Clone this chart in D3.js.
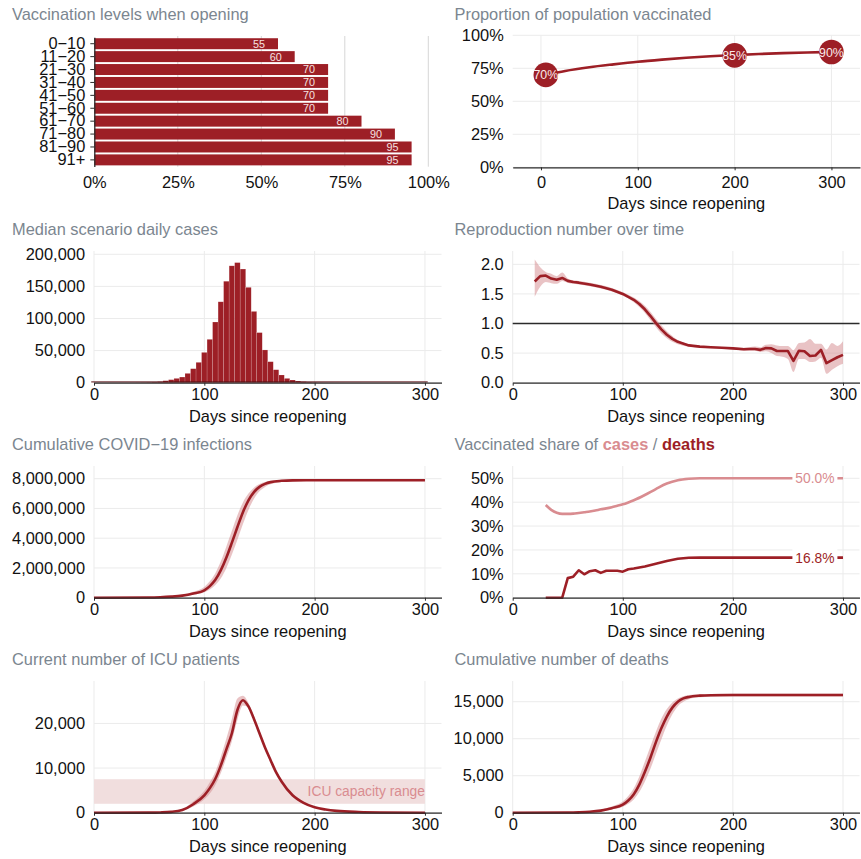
<!DOCTYPE html>
<html>
<head>
<meta charset="utf-8">
<script src="https://d3js.org/d3.v7.min.js"></script>
<style>
body { margin: 0; background: #fff; }
svg text { font-family: "Liberation Sans", Arial, sans-serif; }
</style>
</head>
<body>
<svg id="main"></svg>
<script>
// vaccination levels by age group
var ageGroups = ["0\u221210", "11\u221220", "21\u221230", "31\u221240", "41\u221250", "51\u221260", "61\u221270", "71\u221280", "81\u221290", "91+"];
var vaxLevels = [55, 60, 70, 70, 70, 70, 80, 90, 95, 95];

// proportion of population vaccinated (%)
var propDays = [5, 25, 50, 75, 100, 125, 150, 175, 200, 225, 250, 275, 300];
var propVals = [70, 73, 75.8, 78, 80, 81.6, 83, 84.1, 85, 85.8, 86.5, 87, 87.4];
var milestoneDays = [5, 200, 300];
var milestoneVals = [70, 84.8, 87.3];
var milestoneLabels = ["70%", "85%", "90%"];

// median scenario daily cases, thousands, 5-day bins
var caseDays = [0, 5, 10, 15, 20, 25, 30, 35, 40, 45, 50, 55, 60, 65, 70, 75, 80, 85, 90, 95,
  100, 105, 110, 115, 120, 125, 130, 135, 140, 145, 150, 155, 160, 165, 170, 175, 180, 185, 190, 195,
  200, 205, 210, 215, 220, 225, 230, 235, 240, 245, 250, 255, 260, 265, 270, 275, 280, 285, 290, 295, 300];
var dailyCases = [0.1, 0.1, 0.1, 0.15, 0.15, 0.2, 0.2, 0.3, 0.4, 0.5, 0.7, 1.0, 1.6, 3.1, 4.7, 6.7, 8.8, 14.5, 21.8, 31.7,
  47.2, 67.5, 94.5, 126, 158, 182, 187, 177, 148.5, 111, 78, 51, 32.7, 20.2, 12, 6.7, 4.2, 2.6, 1.6, 0.9,
  0.6, 0.4, 0.3, 0.25, 0.2, 0.2, 0.15, 0.15, 0.15, 0.1, 0.1, 0.1, 0.1, 0.1, 0.1, 0.1, 0.1, 0.1, 0.1, 0.1, 0.1];

// reproduction number
var rDays = [20, 25, 30, 35, 40, 45, 50, 55, 60, 70, 80, 90, 100, 110, 115, 120, 125, 130, 135, 140, 145, 150,
  160, 170, 180, 190, 200, 210, 215, 220, 225, 230, 235, 240, 245, 250, 255, 260, 265, 270, 275, 280, 285, 290, 295, 300];
var rMid = [1.71, 1.80, 1.81, 1.76, 1.74, 1.77, 1.72, 1.70, 1.69, 1.66, 1.62, 1.57, 1.50, 1.40, 1.33, 1.24, 1.13, 1.01, 0.90, 0.81, 0.74, 0.69,
  0.63, 0.61, 0.60, 0.59, 0.58, 0.565, 0.57, 0.57, 0.555, 0.585, 0.58, 0.535, 0.535, 0.535, 0.37, 0.54, 0.53, 0.45, 0.46, 0.555, 0.33, 0.38, 0.43, 0.47];
var rLo = [1.45, 1.62, 1.70, 1.68, 1.67, 1.72, 1.69, 1.67, 1.66, 1.63, 1.59, 1.54, 1.47, 1.36, 1.28, 1.18, 1.06, 0.94, 0.83, 0.75, 0.69, 0.65,
  0.61, 0.59, 0.58, 0.575, 0.565, 0.54, 0.54, 0.54, 0.52, 0.53, 0.50, 0.45, 0.44, 0.40, 0.18, 0.40, 0.40, 0.35, 0.36, 0.42, 0.15, 0.22, 0.28, 0.32];
var rHi = [2.08, 1.95, 1.87, 1.84, 1.80, 1.86, 1.76, 1.73, 1.72, 1.69, 1.65, 1.60, 1.53, 1.44, 1.38, 1.30, 1.20, 1.08, 0.97, 0.87, 0.79, 0.72,
  0.65, 0.62, 0.61, 0.605, 0.60, 0.59, 0.60, 0.61, 0.60, 0.64, 0.65, 0.63, 0.62, 0.62, 0.55, 0.67, 0.68, 0.74, 0.66, 0.66, 0.56, 0.67, 0.62, 0.70];

// cumulative infections, millions
var cumDays = [0, 50, 60, 70, 80, 90, 100, 105, 110, 115, 120, 125, 130, 135, 140, 145, 150, 155, 160, 170, 180, 200, 250, 300];
var infMid = [0, 0.01, 0.03, 0.07, 0.14, 0.28, 0.5, 0.78, 1.2, 1.85, 2.7, 3.7, 4.75, 5.75, 6.55, 7.1, 7.45, 7.65, 7.77, 7.86, 7.89, 7.9, 7.9, 7.9];
var infLo = [0, 0.005, 0.02, 0.05, 0.1, 0.2, 0.36, 0.55, 0.85, 1.3, 2.0, 2.9, 3.9, 4.95, 5.9, 6.65, 7.15, 7.45, 7.62, 7.78, 7.83, 7.85, 7.85, 7.85];
var infHi = [0, 0.015, 0.04, 0.1, 0.2, 0.4, 0.72, 1.1, 1.65, 2.45, 3.45, 4.5, 5.55, 6.4, 7.0, 7.4, 7.65, 7.78, 7.85, 7.9, 7.93, 7.95, 7.95, 7.95];

// vaccinated share of cases / deaths (%)
var shareDays = [30, 35, 40, 45, 50, 55, 60, 65, 70, 75, 80, 85, 90, 95, 100, 105, 110, 120, 130, 140, 150, 160, 170, 180, 200, 250, 300];
var casesShare = [38.8, 36.8, 35.6, 35.1, 35.1, 35.2, 35.5, 35.8, 36.1, 36.5, 37.0, 37.4, 37.9, 38.5, 39.1, 39.9, 40.8, 43.0, 45.5, 47.8, 49.2, 49.8, 50.0, 50.0, 50.0, 50.0, 50.0];
var deathsShare = [0, 0, 0, 0, 8.2, 8.8, 11.5, 9.8, 11.1, 11.5, 10.4, 11.3, 11.3, 11.3, 10.9, 11.9, 12.2, 13.1, 14.2, 15.4, 16.3, 16.7, 16.8, 16.8, 16.8, 16.8, 16.8];
var shareLabels = ["50.0%", "16.8%"];

// ICU patients, thousands
var icuDays = [0, 50, 60, 70, 80, 90, 100, 105, 110, 115, 120, 125, 130, 135, 140, 145, 150, 155, 160, 165, 170, 180, 190, 200, 210, 220, 240, 260, 300];
var icuMid = [0, 0.02, 0.06, 0.18, 0.6, 1.9, 3.9, 5.5, 7.6, 10.6, 14.2, 17.8, 23.0, 25.2, 23.8, 21.0, 17.8, 14.6, 11.8, 9.1, 7.0, 3.9, 2.2, 1.2, 0.7, 0.4, 0.15, 0.05, 0];
var icuLo = [0, 0.01, 0.04, 0.12, 0.45, 1.4, 3.0, 4.3, 6.2, 8.9, 12.3, 16.0, 20.8, 24.0, 23.5, 20.8, 17.5, 14.2, 11.2, 8.7, 6.7, 3.7, 2.0, 1.1, 0.6, 0.35, 0.12, 0.04, 0];
var icuHi = [0, 0.03, 0.09, 0.25, 0.8, 2.5, 4.9, 6.8, 9.2, 12.6, 16.6, 21.0, 25.6, 26.2, 24.6, 21.6, 18.3, 15.0, 12.2, 9.5, 7.4, 4.2, 2.4, 1.35, 0.8, 0.45, 0.18, 0.06, 0];
var icuCapacity = [2.0, 7.5];

// cumulative deaths, thousands
var deathMid = [0, 0.02, 0.05, 0.12, 0.28, 0.6, 1.1, 1.65, 2.5, 3.8, 5.5, 7.4, 9.5, 11.4, 13.0, 14.2, 15.0, 15.45, 15.65, 15.82, 15.88, 15.9, 15.9, 15.9];
var deathLo = [0, 0.01, 0.03, 0.08, 0.2, 0.42, 0.8, 1.2, 1.8, 2.8, 4.2, 5.9, 7.9, 9.9, 11.8, 13.3, 14.4, 15.0, 15.35, 15.6, 15.68, 15.7, 15.7, 15.7];
var deathHi = [0, 0.03, 0.07, 0.17, 0.4, 0.85, 1.5, 2.25, 3.3, 4.9, 6.9, 8.9, 10.9, 12.7, 14.0, 14.9, 15.45, 15.75, 15.9, 16.0, 16.05, 16.08, 16.08, 16.08];

var W = 861, H = 859;
var DARK = "#9d1f26", PINK = "#d98c90", RIBBON = "#d4888c", GRID = "#ebebeb", AXIS = "#2b2b2b", TITLE = "#7b8690";
var FS = 16.4;
var dayTicks = [0, 100, 200, 300];
var LEFT = [94, 441.5], RIGHT = [512.7, 859.5];

var s = d3.select("#main").attr("width", W).attr("height", H);

function title(x, y) {
	return s.append("text").attr("x", x).attr("y", y)
		.attr("fill", TITLE).style("font-size", FS + "px");
}

function styleAxis(a) {
	a.attr("font-size", FS).attr("font-family", null).style("color", AXIS);
	a.selectAll("text").attr("fill", "#111");
}

// generic time panel: grid, axes and axis title
function panel(c) {
	var x = d3.scaleLinear().domain(c.xDomain).range(c.xr);
	var y = d3.scaleLinear().domain(c.yDomain).range([c.bottom, c.top]);
	var g = s.append("g");

	g.append("g").selectAll("line").data(c.yTicks).join("line")
		.attr("x1", c.xr[0]).attr("x2", c.xr[1])
		.attr("y1", d => y(d)).attr("y2", d => y(d))
		.attr("stroke", GRID).attr("stroke-width", 1);
	g.append("g").selectAll("line").data(dayTicks).join("line")
		.attr("x1", d => x(d)).attr("x2", d => x(d))
		.attr("y1", c.top).attr("y2", c.bottom)
		.attr("stroke", GRID).attr("stroke-width", 1);

	var ya = g.append("g").attr("transform", "translate(" + c.xr[0] + ",0)")
		.call(d3.axisLeft(y).tickValues(c.yTicks).tickFormat(c.yFmt).tickSize(0).tickPadding(9));
	ya.select(".domain").remove();
	styleAxis(ya);

	var marks = g.append("g");

	var xa = g.append("g").attr("transform", "translate(0," + c.bottom + ")")
		.call(d3.axisBottom(x).tickValues(dayTicks).tickSize(3).tickSizeOuter(0).tickPadding(c.xPad || 3));
	xa.select(".domain").attr("stroke-width", 1.3);
	styleAxis(xa);

	g.append("text").attr("x", (c.xr[0] + c.xr[1]) / 2).attr("y", c.bottom + (c.titleOff || 39.6))
		.attr("text-anchor", "middle").style("font-size", FS + "px").attr("fill", "#111")
		.text("Days since reopening");

	return { x: x, y: y, g: marks };
}

function ribbon(p, days, lo, hi) {
	var area = d3.area().curve(d3.curveMonotoneX)
		.x((d, i) => p.x(days[i])).y0((d, i) => p.y(lo[i])).y1((d, i) => p.y(hi[i]));
	p.g.append("path").datum(days).attr("d", area)
		.attr("fill", RIBBON).attr("fill-opacity", 0.5);
}

function line(p, days, vals, color, curve) {
	var ln = d3.line().curve(curve || d3.curveMonotoneX)
		.x((d, i) => p.x(days[i])).y((d, i) => p.y(vals[i]));
	return p.g.append("path").datum(days).attr("d", ln)
		.attr("fill", "none").attr("stroke", color).attr("stroke-width", 2.6)
		.attr("stroke-linejoin", "round");
}

function initVaxBars() {
	title(12, 19.5).text("Vaccination levels when opening");
	var xb = d3.scaleLinear().domain([0, 100]).range([94.3, 428.3]);
	var yb = d3.scaleBand().domain(ageGroups).range([37.2, 166.4]).paddingInner(0.15).paddingOuter(0.08);

	s.append("g").selectAll("line").data([25, 50, 75, 100]).join("line")
		.attr("x1", d => xb(d)).attr("x2", d => xb(d)).attr("y1", 36).attr("y2", 166.7)
		.attr("stroke", "#d6d6d6").attr("stroke-width", 1);

	var bars = s.append("g");
	bars.selectAll("rect").data(ageGroups).join("rect")
		.attr("x", xb(0)).attr("y", d => yb(d))
		.attr("width", (d, i) => xb(vaxLevels[i]) - xb(0)).attr("height", yb.bandwidth())
		.attr("fill", DARK);
	bars.selectAll("text").data(ageGroups).join("text")
		.attr("x", (d, i) => xb(vaxLevels[i]) - 19).attr("y", d => yb(d) + yb.bandwidth() / 2)
		.attr("dy", "0.36em").attr("text-anchor", "middle")
		.style("font-size", "10.8px").attr("fill", "#f6e1e1")
		.text((d, i) => vaxLevels[i]);

	var ya = s.append("g").attr("transform", "translate(" + xb(0) + ",0)")
		.call(d3.axisLeft(yb).tickSize(4).tickSizeOuter(0).tickPadding(5));
	styleAxis(ya);
	ya.select(".domain").attr("stroke-width", 1.3);

	var xa = s.append("g").attr("transform", "translate(0,166.7)")
		.call(d3.axisBottom(xb).tickValues([0, 25, 50, 75, 100]).tickFormat(d => d + "%").tickSize(0).tickPadding(10));
	xa.select(".domain").remove();
	styleAxis(xa);
}

function initProportion() {
	title(454.5, 19.5).text("Proportion of population vaccinated");
	var p = panel({ xr: [512.7, 860], xDomain: [-29.2, 329.5], top: 35.3, bottom: 167.3,
		yDomain: [0, 100], yTicks: [0, 25, 50, 75, 100], yFmt: d => d + "%", xPad: 6.5, titleOff: 41.2 });
	line(p, propDays, propVals, DARK);
	var m = p.g.append("g").selectAll("g").data(milestoneDays).join("g")
		.attr("transform", (d, i) => "translate(" + p.x(d) + "," + p.y(milestoneVals[i]) + ")");
	m.append("circle").attr("r", 12.3).attr("fill", DARK);
	m.append("text").attr("dy", "0.36em").attr("text-anchor", "middle")
		.style("font-size", "12.4px").attr("fill", "#fbeaea")
		.text((d, i) => milestoneLabels[i]);
}

function initDailyCases() {
	title(12, 234.5).text("Median scenario daily cases");
	var p = panel({ xr: LEFT, xDomain: [0, 315], top: 251, bottom: 382.7,
		yDomain: [0, 205.1], yTicks: [0, 50, 100, 150, 200], yFmt: d => d3.format(",")(d * 1000) });
	p.g.selectAll("rect").data(caseDays).join("rect")
		.attr("x", d => p.x(d - 2.5)).attr("width", p.x(5) - p.x(0))
		.attr("y", (d, i) => p.y(dailyCases[i])).attr("height", (d, i) => p.y(0) - p.y(dailyCases[i]))
		.attr("fill", DARK).attr("stroke", "#fff").attr("stroke-opacity", 0.3).attr("stroke-width", 0.5);
	p.g.append("line").attr("x1", p.x(-2.5)).attr("x2", p.x(302.5)).attr("y1", p.y(0) - 0.8).attr("y2", p.y(0) - 0.8)
		.attr("stroke", "#5a1216").attr("stroke-width", 1);
}

function initReproduction() {
	title(454.5, 234.5).text("Reproduction number over time");
	var p = panel({ xr: RIGHT, xDomain: [0, 315], top: 251, bottom: 382.7,
		yDomain: [0, 2.225], yTicks: [0, 0.5, 1, 1.5, 2], yFmt: d3.format(".1f") });
	p.g.append("line").attr("x1", RIGHT[0]).attr("x2", RIGHT[1]).attr("y1", p.y(1)).attr("y2", p.y(1))
		.attr("stroke", AXIS).attr("stroke-width", 1.6);
	ribbon(p, rDays, rLo, rHi);
	line(p, rDays, rMid, DARK, d3.curveLinear);
}

function initInfections() {
	title(12, 449.5).text("Cumulative COVID\u221219 infections");
	var p = panel({ xr: LEFT, xDomain: [0, 315], top: 466, bottom: 597.7,
		yDomain: [0, 8.854], yTicks: [0, 2, 4, 6, 8], yFmt: d => d3.format(",")(d * 1e6) });
	ribbon(p, cumDays, infLo, infHi);
	line(p, cumDays, infMid, DARK);
}

function initShare() {
	var t = title(454.5, 449.5);
	t.append("tspan").text("Vaccinated share of ");
	t.append("tspan").attr("font-weight", "bold").attr("fill", PINK).text("cases");
	t.append("tspan").text(" / ");
	t.append("tspan").attr("font-weight", "bold").attr("fill", DARK).text("deaths");

	var p = panel({ xr: RIGHT, xDomain: [0, 315], top: 466, bottom: 597.7,
		yDomain: [0, 55.15], yTicks: [0, 10, 20, 30, 40, 50], yFmt: d => d + "%" });
	line(p, shareDays, casesShare, PINK);
	line(p, shareDays, deathsShare, DARK, d3.curveLinear);

	var ends = [casesShare[casesShare.length - 1], deathsShare[deathsShare.length - 1]];
	var cols = [PINK, DARK];
	var lab = p.g.append("g").selectAll("g").data(ends).join("g")
		.attr("transform", d => "translate(" + p.x(274.5) + "," + p.y(d) + ")");
	lab.append("rect").attr("x", -22.5).attr("y", -9).attr("width", 45).attr("height", 18).attr("fill", "#fff");
	lab.append("text").attr("dy", "0.36em").attr("text-anchor", "middle")
		.style("font-size", "13.8px").attr("fill", (d, i) => cols[i])
		.text((d, i) => shareLabels[i]);
}

function initICU() {
	title(12, 664.5).text("Current number of ICU patients");
	var p = panel({ xr: LEFT, xDomain: [0, 315], top: 681, bottom: 812.7,
		yDomain: [0, 29.5], yTicks: [0, 10, 20], yFmt: d => d3.format(",")(d * 1000) });
	p.g.append("rect").attr("x", p.x(0)).attr("width", p.x(300) - p.x(0))
		.attr("y", p.y(icuCapacity[1])).attr("height", p.y(icuCapacity[0]) - p.y(icuCapacity[1]))
		.attr("fill", "#f1dede");
	p.g.append("text").attr("x", p.x(300)).attr("y", p.y((icuCapacity[0] + icuCapacity[1]) / 2))
		.attr("dy", "0.36em").attr("text-anchor", "end")
		.style("font-size", "13.8px").attr("fill", "#d98c90").text("ICU capacity range");
	ribbon(p, icuDays, icuLo, icuHi);
	line(p, icuDays, icuMid, DARK);
}

function initDeaths() {
	title(454.5, 664.5).text("Cumulative number of deaths");
	var p = panel({ xr: RIGHT, xDomain: [0, 315], top: 681, bottom: 812.7,
		yDomain: [0, 17.8], yTicks: [0, 5, 10, 15], yFmt: d => d3.format(",")(d * 1000) });
	ribbon(p, cumDays, deathLo, deathHi);
	line(p, cumDays, deathMid, DARK);
}

initVaxBars();
initProportion();
initDailyCases();
initReproduction();
initInfections();
initShare();
initICU();
initDeaths();
</script>
</body>
</html>
